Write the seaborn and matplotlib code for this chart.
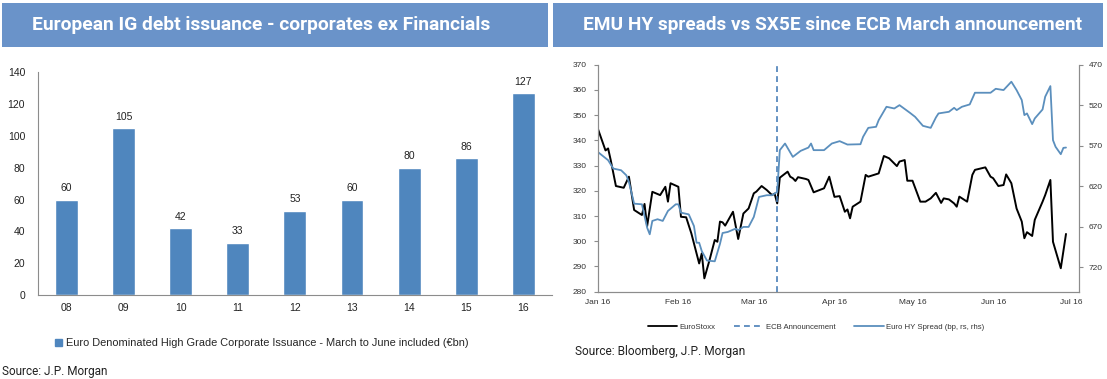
import numpy as np
import pandas as pd
import matplotlib
matplotlib.use("Agg")
import matplotlib.pyplot as plt
import matplotlib.dates as mdates
from matplotlib.patches import Rectangle, Patch
from matplotlib.lines import Line2D
import seaborn as sns

# ---------------- data: left chart ----------------
years = ["08", "09", "10", "11", "12", "13", "14", "15", "16"]
issuance = [60, 105, 42, 33, 53, 60, 80, 86, 127]

# ---------------- data: right chart ----------------
stoxx_dates = [
    "2016-01-01", "2016-01-04", "2016-01-05", "2016-01-06", "2016-01-08", "2016-01-11",
    "2016-01-13", "2016-01-15", "2016-01-18", "2016-01-19", "2016-01-20", "2016-01-22",
    "2016-01-25", "2016-01-27", "2016-01-28", "2016-01-29", "2016-02-01", "2016-02-02",
    "2016-02-04", "2016-02-06", "2016-02-09", "2016-02-10", "2016-02-11", "2016-02-13",
    "2016-02-15", "2016-02-16", "2016-02-17", "2016-02-18", "2016-02-19", "2016-02-22",
    "2016-02-24", "2016-02-26", "2016-02-28", "2016-03-01", "2016-03-02", "2016-03-04",
    "2016-03-06", "2016-03-08", "2016-03-09", "2016-03-10", "2016-03-11", "2016-03-14",
    "2016-03-15", "2016-03-16", "2016-03-17", "2016-03-18", "2016-03-21", "2016-03-22",
    "2016-03-24", "2016-03-28", "2016-03-30", "2016-04-01", "2016-04-03", "2016-04-05",
    "2016-04-06", "2016-04-07", "2016-04-08", "2016-04-11", "2016-04-13", "2016-04-14",
    "2016-04-18", "2016-04-20", "2016-04-22", "2016-04-25", "2016-04-26", "2016-04-28",
    "2016-04-29", "2016-05-01", "2016-05-04", "2016-05-06", "2016-05-08", "2016-05-10",
    "2016-05-12", "2016-05-13", "2016-05-15", "2016-05-17", "2016-05-18", "2016-05-19",
    "2016-05-22", "2016-05-24", "2016-05-25", "2016-05-29", "2016-05-31", "2016-06-01",
    "2016-06-03", "2016-06-05", "2016-06-06", "2016-06-08", "2016-06-10", "2016-06-12",
    "2016-06-13", "2016-06-14", "2016-06-16", "2016-06-17", "2016-06-20", "2016-06-21",
    "2016-06-23", "2016-06-24", "2016-06-27", "2016-06-29",
]
stoxx = [
    344.8, 336.0, 336.8, 332.2, 321.9, 321.2,
    325.6, 312.4, 310.4, 314.8, 306.0, 319.6,
    318.3, 321.6, 315.7, 323.0, 321.6, 309.7,
    309.5, 303.1, 291.2, 295.2, 285.3, 292.6,
    300.5, 299.8, 307.8, 307.5, 306.2, 311.7,
    300.9, 311.0, 313.0, 319.0, 319.7, 321.9,
    320.3, 318.3, 318.9, 315.0, 325.2, 327.6,
    325.6, 325.0, 323.9, 325.4, 324.7, 324.3,
    319.4, 321.0, 325.6, 317.6, 317.9, 311.7,
    312.6, 309.1, 313.7, 315.7, 326.3, 325.6,
    326.9, 333.8, 332.9, 329.8, 331.6, 332.2,
    324.0, 324.0, 315.7, 315.7, 317.0, 319.2,
    315.2, 317.0, 316.6, 315.0, 313.7, 317.7,
    315.7, 326.3, 328.3, 329.3, 325.6, 325.0,
    321.9, 322.3, 326.5, 323.0, 313.0, 307.8,
    301.2, 303.6, 302.1, 308.5, 315.7, 318.3,
    324.3, 299.8, 289.3, 302.9,
]

hy_dates = [
    "2016-01-01", "2016-01-05", "2016-01-07", "2016-01-10", "2016-01-12", "2016-01-13",
    "2016-01-15", "2016-01-18", "2016-01-20", "2016-01-21", "2016-01-22", "2016-01-24",
    "2016-01-26", "2016-01-28", "2016-01-31", "2016-02-01", "2016-02-02", "2016-02-05",
    "2016-02-07", "2016-02-08", "2016-02-09", "2016-02-10", "2016-02-12", "2016-02-15",
    "2016-02-17", "2016-02-18", "2016-02-20", "2016-02-23", "2016-02-24", "2016-02-26",
    "2016-02-28", "2016-03-01", "2016-03-02", "2016-03-03", "2016-03-06", "2016-03-08",
    "2016-03-10", "2016-03-11", "2016-03-13", "2016-03-16", "2016-03-19", "2016-03-22",
    "2016-03-23", "2016-03-24", "2016-03-28", "2016-03-31", "2016-04-03", "2016-04-06",
    "2016-04-11", "2016-04-12", "2016-04-14", "2016-04-17", "2016-04-18", "2016-04-21",
    "2016-04-24", "2016-04-26", "2016-04-30", "2016-05-02", "2016-05-04", "2016-05-05",
    "2016-05-08", "2016-05-10", "2016-05-11", "2016-05-15", "2016-05-17", "2016-05-18",
    "2016-05-20", "2016-05-23", "2016-05-25", "2016-05-31", "2016-06-02", "2016-06-05",
    "2016-06-08", "2016-06-10", "2016-06-12", "2016-06-13", "2016-06-14", "2016-06-16",
    "2016-06-17", "2016-06-20", "2016-06-21", "2016-06-23", "2016-06-24", "2016-06-25",
    "2016-06-27", "2016-06-28", "2016-06-29",
]
hy_spread = [
    577.5, 587.8, 598.1, 600.2, 606.4, 614.6,
    641.4, 642.2, 671.0, 679.2, 662.7, 660.6,
    662.7, 650.4, 642.2, 642.2, 652.5, 654.6,
    669.0, 689.6, 689.6, 699.9, 711.6, 712.5,
    691.0, 677.6, 676.3, 672.2, 674.2, 670.1,
    670.1, 657.8, 645.5, 633.1, 631.0, 631.0,
    626.9, 575.4, 567.2, 583.7, 576.3, 572.2,
    567.2, 575.4, 575.4, 567.2, 564.3, 568.5,
    568.1, 559.0, 547.9, 546.6, 538.4, 521.9,
    524.0, 519.9, 529.3, 534.3, 541.7, 545.4,
    547.9, 535.1, 530.1, 528.1, 523.2, 526.0,
    521.9, 519.0, 504.6, 504.6, 499.7, 501.3,
    491.0, 501.3, 513.6, 532.2, 530.1, 543.3,
    536.3, 525.2, 509.5, 496.4, 563.1, 571.3,
    580.4, 572.6, 572.2,
]
ecb_date = "2016-03-10"

W, H = 1107, 379
BAR_BLUE = "#4f86be"
LINE_BLUE = "#5b8fbd"
HEAD_BLUE = "#6a93c9"
SPINE = "#8c8c8c"

sns.set_style("white")
plt.rcParams["font.family"] = ["Liberation Sans", "DejaVu Sans"]

fig = plt.figure(figsize=(W / 100, H / 100), dpi=100)


def fx(px):
    return px / W


def fy(py):
    return 1 - py / H


# title bars
for x0, x1, txt, tx, fs in [(2, 548, "European IG debt issuance - corporates ex Financials", 32, 13.9),
                            (553, 1103, "EMU HY spreads vs SX5E since ECB March announcement", 583, 13.7)]:
    fig.add_artist(Rectangle((fx(x0), fy(47)), fx(x1 - x0), 44 / H,
                             transform=fig.transFigure, color=HEAD_BLUE, lw=0))
    fig.text(fx(tx), fy(25), txt, color="white", fontsize=fs, fontweight="bold",
             family=["Roboto", "DejaVu Sans"], ha="left", va="center")

# ---------------- left: bar chart ----------------
ax = fig.add_axes([fx(37.7), fy(295), fx(552 - 37.7), (295 - 72.3) / H])
sns.barplot(x=years, y=issuance, color=BAR_BLUE, saturation=1, width=0.4, ax=ax)
for i, v in enumerate(issuance):
    ax.text(i, v + 4, str(v), ha="center", va="bottom", fontsize=7.5, color="#222")
ax.set_ylim(0, 140)
ax.set_yticks(range(0, 141, 20))
ax.set_xlim(-0.5, len(years) - 0.5)
ax.set_xticks(np.arange(-0.5, len(years), 1.0), minor=False)
ax.set_xticklabels([])
ax.set_xticks(range(len(years)), minor=True)
ax.set_xticklabels(years, minor=True)
ax.tick_params(axis="x", which="major", length=3, color=SPINE, direction="out")
ax.tick_params(axis="x", which="minor", length=0, labelsize=7.5, pad=6, labelcolor="#222")
ax.tick_params(axis="y", length=3, color=SPINE, labelsize=7.5, labelcolor="#222", pad=6)
ax.set_xlabel("")
ax.set_ylabel("")
for s in ["top", "right"]:
    ax.spines[s].set_visible(False)
for s in ["left", "bottom"]:
    ax.spines[s].set_color(SPINE)
    ax.spines[s].set_linewidth(0.8)

fig.legend(handles=[Patch(color=BAR_BLUE, label="Euro Denominated High Grade Corporate Issuance - March to June included (€bn)")],
           loc="center", bbox_to_anchor=(fx(262), fy(343)), frameon=False, fontsize=7.95,
           handlelength=0.6, handleheight=0.6, handletextpad=0.4)
fig.text(fx(2), fy(372), "Source: J.P. Morgan", fontsize=8.5, family=["Roboto", "DejaVu Sans"],
         ha="left", va="center", color="#222")

# ---------------- right: line chart ----------------
ax2 = fig.add_axes([fx(597.7), fy(291.7), fx(1079 - 597.7), (291.7 - 64.7) / H])
sns.lineplot(x=pd.to_datetime(stoxx_dates), y=stoxx, ax=ax2, color="black", lw=1.4,
             estimator=None, sort=False)
ax2.axvline(pd.Timestamp(ecb_date), color="#4a7fb8", lw=1.2, dashes=(3.5, 2.5))
ax2.set_ylim(280, 370)
ax2.set_yticks(range(280, 371, 10))
ax2.set_xlim(pd.Timestamp("2016-01-01"), pd.Timestamp("2016-07-04"))
ax2.xaxis.set_major_locator(mdates.MonthLocator())
ax2.xaxis.set_major_formatter(mdates.DateFormatter("%b %y"))
ax2.set_xlabel("")
ax2.set_ylabel("")

ax3 = ax2.twinx()
sns.lineplot(x=pd.to_datetime(hy_dates), y=hy_spread, ax=ax3, color=LINE_BLUE, lw=1.3,
             estimator=None, sort=False)
ax3.set_ylim(750, 470)
ax3.set_yticks(range(470, 721, 50))
ax3.set_ylabel("")

for a in (ax2, ax3):
    a.tick_params(length=3, color=SPINE, labelsize=6, labelcolor="#333", pad=5)
    a.spines["top"].set_visible(False)
    for s in ["left", "bottom", "right"]:
        a.spines[s].set_color(SPINE)
        a.spines[s].set_linewidth(0.8)
ax2.tick_params(axis="x", pad=2)
ax3.tick_params(axis="y", pad=4)

handles = [Line2D([], [], color="black", lw=1.3, label="EuroStoxx"),
           Line2D([], [], color="#4a7fb8", lw=1.2, dashes=(3.5, 2.5), label="ECB Announcement"),
           Line2D([], [], color=LINE_BLUE, lw=1.3, label="Euro HY Spread (bp, rs, rhs)")]
fig.legend(handles=handles, loc="center", bbox_to_anchor=(fx(816), fy(327)), ncol=3,
           frameon=False, fontsize=5.6, handlelength=3.8, handletextpad=0.3, columnspacing=2.4,
           labelcolor="#333")
fig.text(fx(575), fy(352), "Source: Bloomberg, J.P. Morgan", fontsize=8.6,
         family=["Roboto", "DejaVu Sans"], ha="left", va="center", color="#222")

fig.savefig("out.png", dpi=100)
